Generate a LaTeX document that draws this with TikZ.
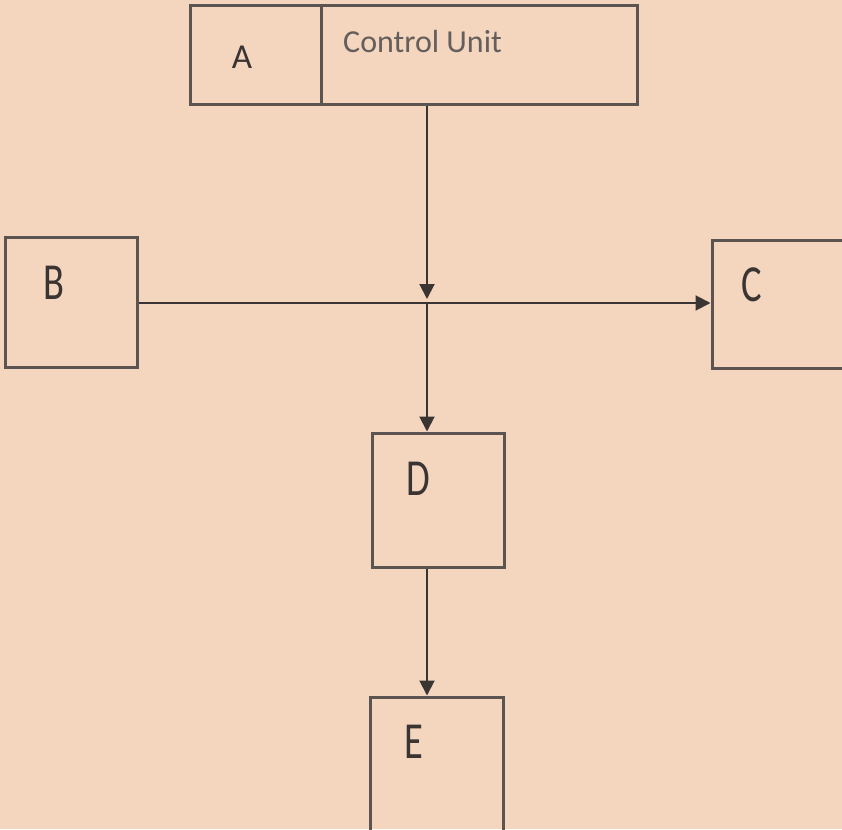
\documentclass[tikz,border=0pt]{standalone}
\usepackage{fontspec}
\setmainfont{Carlito}
\newfontfamily\narrowfont[FakeStretch=0.74]{Carlito}
\usetikzlibrary{arrows.meta}
\definecolor{paper}{RGB}{244,213,190}
\definecolor{ink}{RGB}{58,52,50}
\definecolor{edge}{RGB}{92,84,80}
\definecolor{faint}{RGB}{100,94,92}

\begin{document}
\begin{tikzpicture}[x=1pt, y=-1pt,
  block/.style={rectangle, draw=edge, line width=3pt, inner sep=0pt},
  letter/.style={text=ink, font=\narrowfont\fontsize{52}{52}\selectfont, inner sep=0pt},
  flow/.style={draw=ink, line width=2pt, -{Triangle[length=15pt, width=15pt]}}]
  \clip (0,0) rectangle (842,829);
  \fill[paper] (0,0) rectangle (842,829);
  % boxes
  \node[block, minimum width=131pt, minimum height=99pt] (A) at (255.5,55.5) {};
  \node[block, minimum width=316pt, minimum height=99pt] (CU) at (479,55.5) {};
  \node[block, minimum width=132pt, minimum height=130pt] (B) at (71,302) {};
  \node[block, minimum width=132pt, minimum height=128pt] (C) at (778,304) {};
  \node[block, minimum width=132pt, minimum height=134pt] (D) at (438,500) {};
  \node[block, minimum width=133pt, minimum height=134pt] (E) at (436.5,764) {};
  % labels
  \node[text=ink, font=\fontsize{35}{35}\selectfont, inner sep=0pt] (Atext) at (242,57) {A};
  \node[text=faint, font=\fontsize{32}{32}\selectfont, inner sep=0pt, anchor=base west] (CUtext) at (343,53) {Control Unit};
  \node[letter] (Btext) at (54,283) {B};
  \node[letter] (Ctext) at (752,285) {C};
  \node[letter] (Dtext) at (418,479) {D};
  \node[letter] (Etext) at (414,742) {E};
  % connectors
  \coordinate (J) at (427,303);
  \draw[flow, shorten >=4pt] (CU.south -| J) -- (J);
  \draw[flow] (J) -- (J |- D.north);
  \draw[flow] (B.east |- J) -- (C.west |- J);
  \draw[flow] (D.south -| J) -- (J |- E.north);
\end{tikzpicture}
\end{document}
